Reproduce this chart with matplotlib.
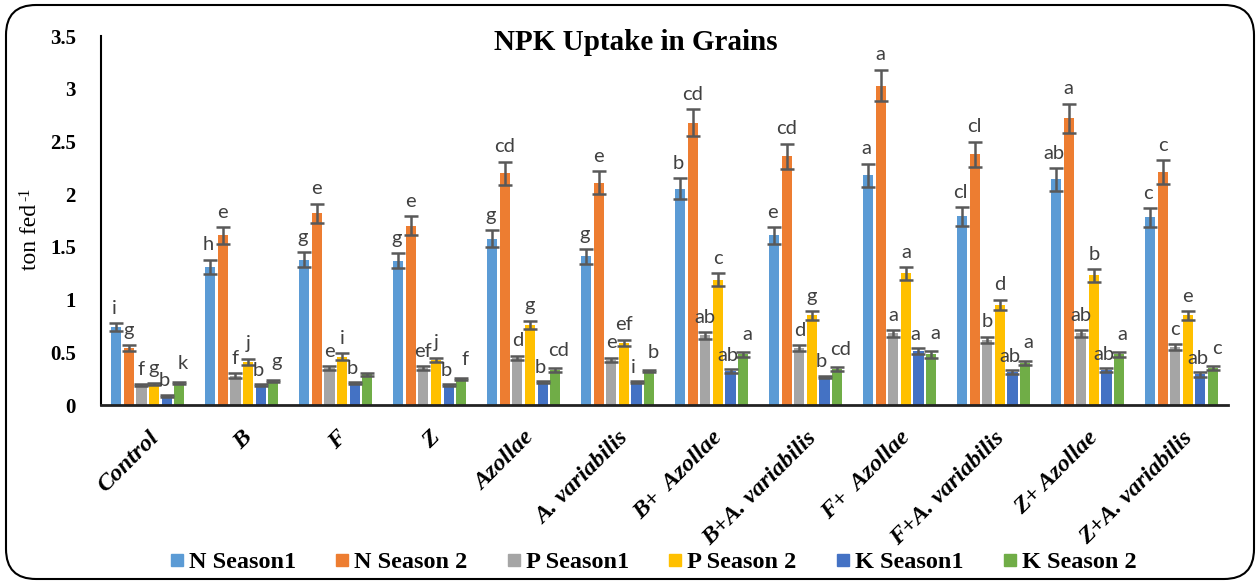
import matplotlib
matplotlib.use("Agg")
import matplotlib.pyplot as plt
import numpy as np
from matplotlib.patches import FancyBboxPatch
from matplotlib.lines import Line2D

categories = ["Control", "B", "F", "Z", "Azollae", "A. variabilis", "B+  Azollae",
              "B+A. variabilis", "F+  Azollae", "F+A. variabilis", "Z+ Azollae", "Z+A. variabilis"]
series_names = ["N Season1", "N Season 2", "P Season1", "P Season 2", "K Season1", "K Season 2"]
colors = ["#5B9BD5", "#ED7D31", "#A5A5A5", "#FFC000", "#4472C4", "#70AD47"]

n_season1 = [0.74, 1.31, 1.38, 1.37, 1.58, 1.41, 2.05, 1.61, 2.18, 1.79, 2.14, 1.78]
n_season2 = [0.54, 1.61, 1.82, 1.70, 2.20, 2.11, 2.68, 2.36, 3.03, 2.38, 2.72, 2.21]
p_season1 = [0.19, 0.28, 0.35, 0.35, 0.45, 0.43, 0.66, 0.54, 0.68, 0.62, 0.68, 0.55]
p_season2 = [0.20, 0.41, 0.46, 0.43, 0.76, 0.59, 1.19, 0.85, 1.25, 0.95, 1.23, 0.85]
k_season1 = [0.09, 0.19, 0.21, 0.19, 0.22, 0.22, 0.32, 0.27, 0.51, 0.31, 0.33, 0.29]
k_season2 = [0.21, 0.23, 0.29, 0.25, 0.33, 0.32, 0.48, 0.34, 0.48, 0.40, 0.48, 0.35]

n1_err = [0.04, 0.07, 0.07, 0.07, 0.08, 0.07, 0.10, 0.08, 0.11, 0.09, 0.11, 0.09]
n2_err = [0.03, 0.08, 0.09, 0.09, 0.11, 0.11, 0.13, 0.12, 0.15, 0.12, 0.14, 0.11]
p1_err = [0.01, 0.02, 0.02, 0.02, 0.02, 0.02, 0.03, 0.03, 0.03, 0.03, 0.03, 0.03]
p2_err = [0.01, 0.03, 0.03, 0.02, 0.04, 0.03, 0.06, 0.04, 0.06, 0.05, 0.06, 0.04]
k1_err = [0.01, 0.01, 0.01, 0.01, 0.01, 0.01, 0.02, 0.01, 0.03, 0.02, 0.02, 0.02]
k2_err = [0.01, 0.01, 0.01, 0.01, 0.02, 0.01, 0.02, 0.02, 0.03, 0.02, 0.02, 0.02]

n1_letters = ["i", "h", "g", "g", "g", "g", "b", "e", "a", "cl", "ab", "c"]
n2_letters = ["g", "e", "e", "e", "cd", "e", "cd", "cd", "a", "cl", "a", "c"]
p1_letters = ["f", "f", "e", "ef", "d", "e", "ab", "d", "a", "b", "ab", "c"]
p2_letters = ["g", "j", "i", "j", "g", "ef", "c", "g", "a", "d", "b", "e"]
k1_letters = ["b", "b", "b", "b", "b", "i", "ab", "b", "a", "ab", "ab", "ab"]
k2_letters = ["k", "g", "", "f", "cd", "b", "a", "cd", "a", "a", "a", "c"]

values = [n_season1, n_season2, p_season1, p_season2, k_season1, k_season2]
errors = [n1_err, n2_err, p1_err, p2_err, k1_err, k2_err]
letters = [n1_letters, n2_letters, p1_letters, p2_letters, k1_letters, k2_letters]
label_dx = [-0.02, 0.0, 0.0, 0.0, -0.03, 0.04]
label_dy = [0.06, 0.06, 0.06, 0.06, 0.05, 0.09]

fig = plt.figure(figsize=(12.6, 5.82), dpi=100)
ax = fig.add_axes([0.080, 0.304, 0.895, 0.634])

x = np.arange(len(categories))
step = 0.134
width = 0.108
for i, (vals, errs, lets) in enumerate(zip(values, errors, letters)):
    pos = x + (i - 2.5) * step
    ax.bar(pos, vals, width=width, color=colors[i], label=series_names[i], zorder=2)
    ax.errorbar(pos, vals, yerr=errs, fmt="none", ecolor="#595959", elinewidth=1.8,
                capsize=5, capthick=1.8, zorder=3)
    for px, v, e, t in zip(pos, vals, errs, lets):
        if t:
            ax.text(px + label_dx[i], v + e + label_dy[i], t, ha="center", va="bottom",
                    fontsize=14.5, family="Lato", color="#404040", zorder=4)

ax.set_xlim(-0.5, len(categories) - 0.5)
ax.set_ylim(0, 3.5)
ax.set_yticks(np.arange(0, 3.51, 0.5))
ax.set_yticklabels(["0", "0.5", "1", "1.5", "2", "2.5", "3", "3.5"],
                   family="Liberation Serif", fontweight="bold", fontsize=15)
ax.tick_params(axis="y", length=0, pad=18)
ax.set_xticks(x)
ax.set_xticklabels(categories, rotation=45, ha="right", rotation_mode="anchor",
                   family="Liberation Serif", fontweight="bold", style="italic", fontsize=17.5)
ax.tick_params(axis="x", length=0, pad=16)
for s in ["top", "right"]:
    ax.spines[s].set_visible(False)
ax.spines["left"].set_linewidth(1.5)
ax.spines["bottom"].set_linewidth(2.0)
ax.spines["bottom"].set_color("#222222")

fig.text(31 / 1260, 1 - 270 / 582, "ton fed", rotation=90, ha="center", va="bottom",
         family="Liberation Serif", fontsize=17)
fig.text(25 / 1260, 1 - 201 / 582, "-1", rotation=90, ha="center", va="bottom",
         family="Liberation Serif", fontsize=11.5)
fig.text(636 / 1260, 1 - 43 / 582, "NPK Uptake in Grains", ha="center", va="center",
         family="Liberation Serif", fontweight="bold", fontsize=21)

handles = [Line2D([0], [0], marker="s", linestyle="none", markersize=8,
                  markerfacecolor=c, markeredgecolor=c) for c in colors]
fig.legend(handles, series_names, loc="center", bbox_to_anchor=(651 / 1260, 1 - 562 / 582), ncol=6,
           frameon=False, prop={"family": "Liberation Serif", "weight": "bold", "size": 17.5},
           handletextpad=0.05, columnspacing=1.45, handlelength=0.9)

border = FancyBboxPatch((0.06, 0.03), 12.48, 5.74, boxstyle="round,pad=0,rounding_size=0.3",
                        transform=fig.dpi_scale_trans, fill=False, edgecolor="black",
                        linewidth=1.5)
fig.patches.append(border)

fig.savefig("out.png", dpi=100)
